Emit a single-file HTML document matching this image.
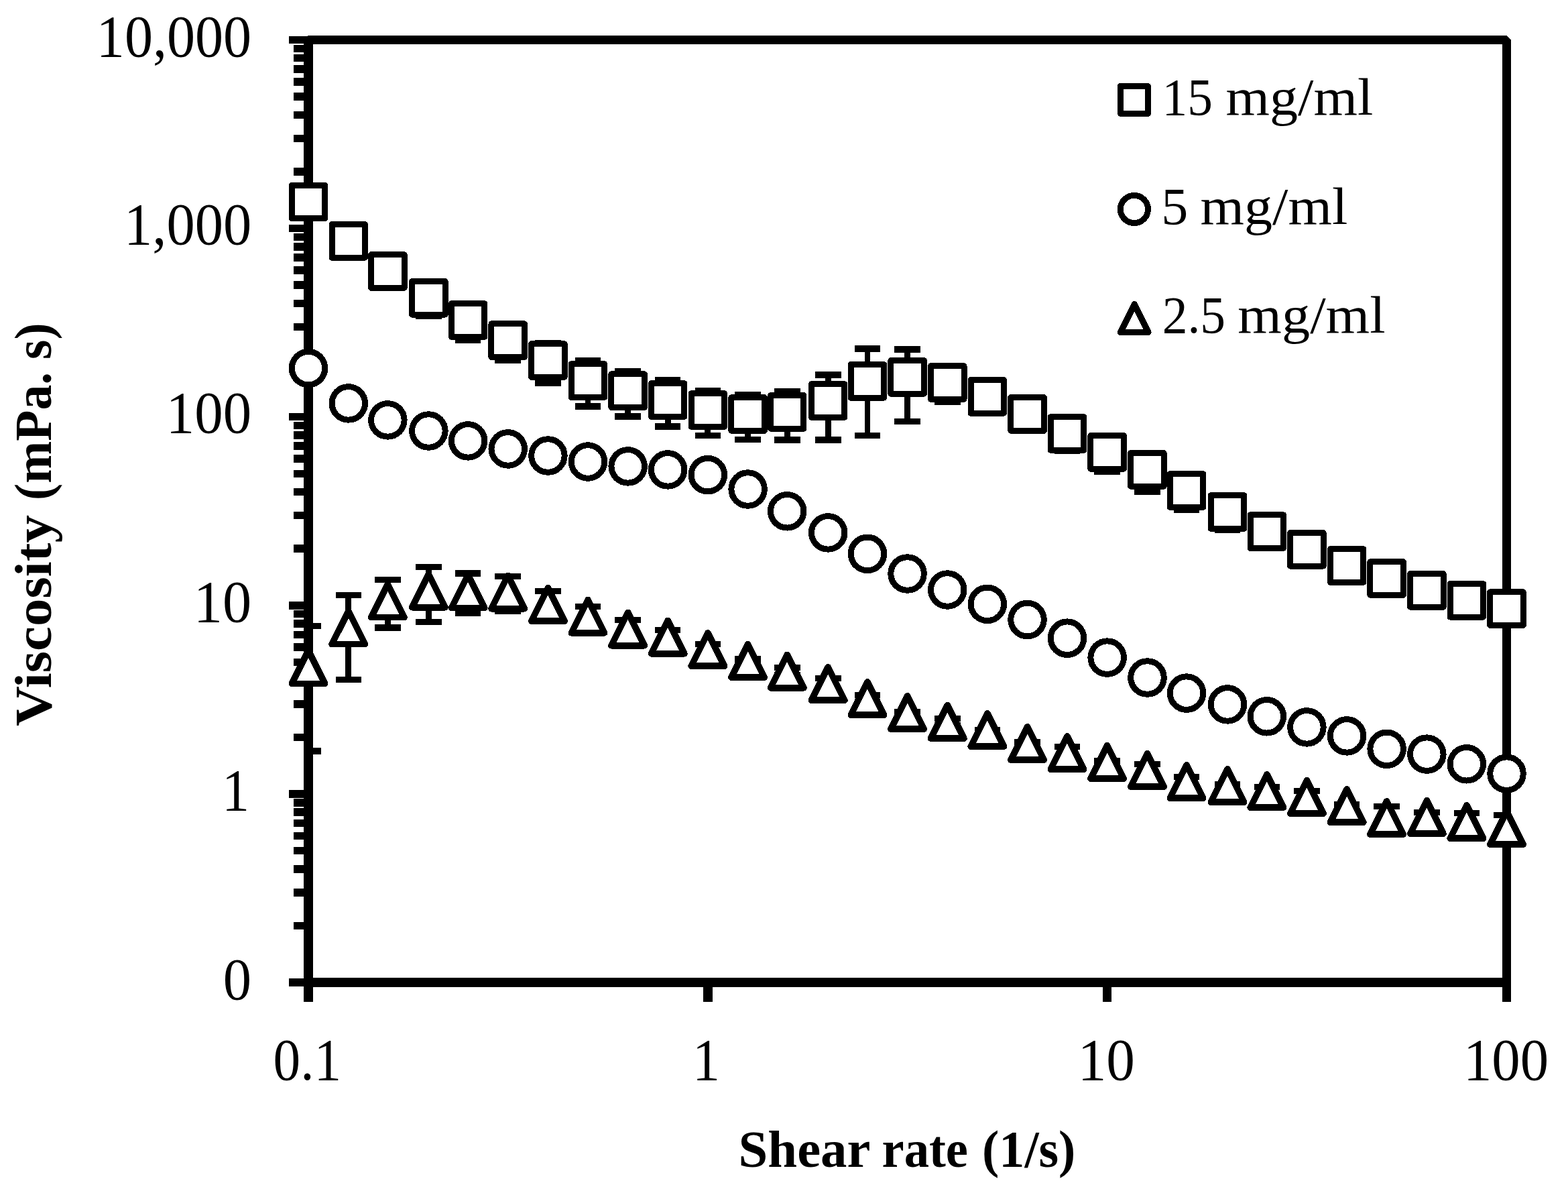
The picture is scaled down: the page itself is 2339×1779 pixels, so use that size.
<!DOCTYPE html>
<html lang="en"><head><meta charset="utf-8"><title>Viscosity vs shear rate</title>
<style>
html,body{margin:0;padding:0;background:#fff;overflow:hidden;}
svg{display:block;}
text{font-family:'Liberation Serif','DejaVu Serif',serif;fill:#000;}
</style></head>
<body>
<svg width="2339" height="1779" viewBox="0 0 2339 1779">
<defs><clipPath id="pa"><rect x="460.0" y="0" width="1787.5" height="1779"/></clipPath></defs>
<rect width="2339" height="1779" fill="#fff"/>
<g fill="#000" shape-rendering="crispEdges">
<path d="M459 53H2247L2254 60V1494H2241V1472H467V1494H453V54H459ZM467 66V1458H2241V66Z" fill-rule="evenodd"/>
<path d="M438 250H454V262H438ZM438 201H454V212H438ZM438 166H454V177H438ZM438 138H454V150H438ZM438 116H454V128H438ZM438 97H454V109H438ZM438 81H454V92H438ZM438 67H454V78H438ZM438 531H454V543H438ZM438 482H454V493H438ZM438 447H454V458H438ZM438 419H454V431H438ZM438 397H454V409H438ZM438 378H454V390H438ZM438 362H454V374H438ZM438 348H454V359H438ZM438 812H454V824H438ZM438 763H454V774H438ZM438 728H454V739H438ZM438 701H454V712H438ZM438 678H454V690H438ZM438 659H454V671H438ZM438 643H454V655H438ZM438 629H454V640H438ZM438 1094H454V1105H438ZM438 1044H454V1056H438ZM438 1009H454V1020H438ZM438 982H454V993H438ZM438 959H454V971H438ZM438 941H454V952H438ZM438 924H454V936H438ZM438 910H454V921H438ZM438 1375H454V1386H438ZM438 1325H454V1337H438ZM438 1290H454V1302H438ZM438 1263H454V1274H438ZM438 1241H454V1252H438ZM438 1222H454V1233H438ZM438 1205H454V1217H438ZM438 1191H454V1203H438ZM431 54H454V65H431ZM431 335H454V346H431ZM431 616H454V627H431ZM431 897H454V909H431ZM431 1178H454V1190H431ZM431 1459H454V1471H431ZM1049 1470H1063V1494H1049ZM1645 1470H1658V1494H1645Z"/>
</g>
<g fill="none" stroke="#000" stroke-width="9.4" clip-path="url(#pa)" shape-rendering="crispEdges">
<path d="M639.36 422.2V471.3" stroke-width="8.9"/><path d="M620.1 422.2H658.7M620.1 471.3H658.7"/><path d="M698.14 453.8V506.9" stroke-width="8.9"/><path d="M678.8 453.8H717.4M678.8 506.9H717.4"/><path d="M757.73 483.9V537.1" stroke-width="8.9"/><path d="M738.4 483.9H777.0M738.4 537.1H777.0"/><path d="M817.43 511.7V571.1" stroke-width="8.9"/><path d="M798.1 511.7H836.7M798.1 571.1H836.7"/><path d="M876.99 537.8V606.1" stroke-width="8.9"/><path d="M857.7 537.8H896.3M857.7 606.1H896.3"/><path d="M936.68 553.7V621.1" stroke-width="8.9"/><path d="M917.4 553.7H956.0M917.4 621.1H956.0"/><path d="M996.14 566.9V636.1" stroke-width="8.9"/><path d="M976.8 566.9H1015.4M976.8 636.1H1015.4"/><path d="M1055.83 582.9V649.2" stroke-width="8.9"/><path d="M1036.5 582.9H1075.1M1036.5 649.2H1075.1"/><path d="M1115.64 588.9V655.2" stroke-width="8.9"/><path d="M1096.3 588.9H1134.9M1096.3 655.2H1134.9"/><path d="M1174.20 583.8V656.1" stroke-width="8.9"/><path d="M1154.9 583.8H1193.5M1154.9 656.1H1193.5"/><path d="M1235.20 558.8V656.1" stroke-width="8.9"/><path d="M1215.9 558.8H1254.5M1215.9 656.1H1254.5"/><path d="M1293.97 519.9V649.2" stroke-width="8.9"/><path d="M1274.7 519.9H1313.3M1274.7 649.2H1313.3"/><path d="M1353.56 520.8V628.2" stroke-width="8.9"/><path d="M1334.3 520.8H1372.9M1334.3 628.2H1372.9"/><path d="M1413.26 547.3V599.2" stroke-width="8.9"/><path d="M1394.0 547.3H1432.6M1394.0 599.2H1432.6"/><path d="M1591.98 625.3V672.2" stroke-width="8.9"/><path d="M1572.7 625.3H1611.3M1572.7 672.2H1611.3"/><path d="M1651.67 651.1V703.2" stroke-width="8.9"/><path d="M1632.4 651.1H1671.0M1632.4 703.2H1671.0"/><path d="M1711.47 676.6V733.2" stroke-width="8.9"/><path d="M1692.2 676.6H1730.8M1692.2 733.2H1730.8"/><path d="M1770.03 708.3V760.2" stroke-width="8.9"/><path d="M1750.7 708.3H1789.3M1750.7 760.2H1789.3"/><path d="M1831.03 741.8V789.9" stroke-width="8.9"/><path d="M1811.7 741.8H1850.3M1811.7 789.9H1850.3"/>
<path d="M460.00 933.7V1119.8" stroke-width="8.9"/><path d="M440.7 933.7H479.3M440.7 1119.8H479.3"/><path d="M519.80 887.7V1013.2" stroke-width="8.9"/><path d="M500.5 887.7H539.1M500.5 1013.2H539.1"/><path d="M578.37 864.7V936.1" stroke-width="8.9"/><path d="M559.1 864.7H597.7M559.1 936.1H597.7"/><path d="M639.36 845.7V927.2" stroke-width="8.9"/><path d="M620.1 845.7H658.7M620.1 927.2H658.7"/><path d="M698.14 854.8V914.3" stroke-width="8.9"/><path d="M678.8 854.8H717.4M678.8 914.3H717.4"/><path d="M757.73 859.7V911.3" stroke-width="8.9"/><path d="M738.4 859.7H777.0M738.4 911.3H777.0"/><path d="M817.43 881.6V925.3" stroke-width="8.9"/><path d="M798.1 881.6H836.7M798.1 925.3H836.7"/><path d="M876.99 904.6V935.3" stroke-width="8.9"/><path d="M857.7 904.6H896.3M857.7 935.3H896.3"/><path d="M936.68 924.6V953.1" stroke-width="8.9"/><path d="M917.4 924.6H956.0M917.4 953.1H956.0"/><path d="M996.14 939.6V961.4" stroke-width="8.9"/><path d="M976.8 939.6H1015.4M976.8 961.4H1015.4"/><path d="M1055.83 960.6V976.9" stroke-width="8.9"/><path d="M1036.5 960.6H1075.1M1036.5 976.9H1075.1"/><path d="M1115.64 982.7V988.2" stroke-width="8.9"/><path d="M1096.3 982.7H1134.9M1096.3 988.2H1134.9"/><path d="M1174.20 995.6V1006.6" stroke-width="8.9"/><path d="M1154.9 995.6H1193.5M1154.9 1006.6H1193.5"/><path d="M1235.20 1011.7V1027.8" stroke-width="8.9"/><path d="M1215.9 1011.7H1254.5M1215.9 1027.8H1254.5"/><path d="M1293.97 1036.7V1046.5" stroke-width="8.9"/><path d="M1274.7 1036.7H1313.3M1274.7 1046.5H1313.3"/><path d="M1353.56 1061.7V1063.3" stroke-width="8.9"/><path d="M1334.3 1061.7H1372.9M1334.3 1063.3H1372.9"/><path d="M1413.26 1071.6V1081.4" stroke-width="8.9"/><path d="M1394.0 1071.6H1432.6M1394.0 1081.4H1432.6"/><path d="M1472.82 1088.4V1088.6" stroke-width="8.9"/><path d="M1453.5 1088.4H1492.1M1453.5 1088.6H1492.1"/><path d="M1532.52 1106.7V1110.3" stroke-width="8.9"/><path d="M1513.2 1106.7H1551.8M1513.2 1110.3H1551.8"/><path d="M1591.98 1113.6V1132.1" stroke-width="8.9"/><path d="M1572.7 1113.6H1611.3M1572.7 1132.1H1611.3"/><path d="M1651.67 1134.6V1138.2" stroke-width="8.9"/><path d="M1632.4 1134.6H1671.0M1632.4 1138.2H1671.0"/><path d="M1711.47 1139.5V1158.2" stroke-width="8.9"/><path d="M1692.2 1139.5H1730.8M1692.2 1158.2H1730.8"/><path d="M1770.03 1158.7V1172.5" stroke-width="8.9"/><path d="M1750.7 1158.7H1789.3M1750.7 1172.5H1789.3"/><path d="M1831.03 1169.7V1173.1" stroke-width="8.9"/><path d="M1811.7 1169.7H1850.3M1811.7 1173.1H1850.3"/><path d="M1889.81 1173.6V1185.5" stroke-width="8.9"/><path d="M1870.5 1173.6H1909.1M1870.5 1185.5H1909.1"/><path d="M1949.40 1179.7V1197.6" stroke-width="8.9"/><path d="M1930.1 1179.7H1968.7M1930.1 1197.6H1968.7"/><path d="M2009.10 1199.8V1203.0" stroke-width="8.9"/><path d="M1989.8 1199.8H2028.4M1989.8 1203.0H2028.4"/><path d="M2068.65 1202.3V1239.5" stroke-width="8.9"/><path d="M2049.4 1202.3H2088.0M2049.4 1239.5H2088.0"/><path d="M2128.35 1211.4V1225.8" stroke-width="8.9"/><path d="M2109.1 1211.4H2147.7M2109.1 1225.8H2147.7"/><path d="M2187.81 1212.7V1239.8" stroke-width="8.9"/><path d="M2168.5 1212.7H2207.1M2168.5 1239.8H2207.1"/><path d="M2247.50 1215.4V1257.2" stroke-width="8.9"/><path d="M2228.2 1215.4H2266.8M2228.2 1257.2H2266.8"/>
</g>
<g fill="#fff" stroke="#000" stroke-width="9.0" stroke-linejoin="round" shape-rendering="crispEdges">
<g><rect x="435.25" y="276.25" width="49.5" height="49.5"/><rect x="495.05" y="334.65" width="49.5" height="49.5"/><rect x="553.62" y="379.75" width="49.5" height="49.5"/><rect x="614.61" y="419.55" width="49.5" height="49.5"/><rect x="673.39" y="452.75" width="49.5" height="49.5"/><rect x="732.98" y="482.85" width="49.5" height="49.5"/><rect x="792.68" y="512.75" width="49.5" height="49.5"/><rect x="852.24" y="542.85" width="49.5" height="49.5"/><rect x="911.93" y="557.85" width="49.5" height="49.5"/><rect x="971.39" y="571.75" width="49.5" height="49.5"/><rect x="1031.08" y="586.75" width="49.5" height="49.5"/><rect x="1090.89" y="592.75" width="49.5" height="49.5"/><rect x="1149.45" y="589.65" width="49.5" height="49.5"/><rect x="1210.45" y="572.75" width="49.5" height="49.5"/><rect x="1269.22" y="543.65" width="49.5" height="49.5"/><rect x="1328.81" y="537.65" width="49.5" height="49.5"/><rect x="1388.51" y="545.75" width="49.5" height="49.5"/><rect x="1448.07" y="566.65" width="49.5" height="49.5"/><rect x="1507.77" y="592.75" width="49.5" height="49.5"/><rect x="1567.23" y="621.75" width="49.5" height="49.5"/><rect x="1626.92" y="649.65" width="49.5" height="49.5"/><rect x="1686.72" y="675.65" width="49.5" height="49.5"/><rect x="1745.28" y="706.75" width="49.5" height="49.5"/><rect x="1806.28" y="738.75" width="49.5" height="49.5"/><rect x="1865.06" y="767.85" width="49.5" height="49.5"/><rect x="1924.65" y="794.55" width="49.5" height="49.5"/><rect x="1984.35" y="818.75" width="49.5" height="49.5"/><rect x="2043.90" y="837.75" width="49.5" height="49.5"/><rect x="2103.60" y="855.65" width="49.5" height="49.5"/><rect x="2163.06" y="870.55" width="49.5" height="49.5"/><rect x="2222.75" y="882.85" width="49.5" height="49.5"/></g>
<g><circle cx="460.00" cy="549.10" r="24.75"/><circle cx="519.80" cy="601.40" r="24.75"/><circle cx="578.37" cy="626.40" r="24.75"/><circle cx="639.36" cy="642.50" r="24.75"/><circle cx="698.14" cy="657.40" r="24.75"/><circle cx="757.73" cy="669.40" r="24.75"/><circle cx="817.43" cy="679.50" r="24.75"/><circle cx="876.99" cy="688.50" r="24.75"/><circle cx="936.68" cy="695.40" r="24.75"/><circle cx="996.14" cy="700.40" r="24.75"/><circle cx="1055.83" cy="708.10" r="24.75"/><circle cx="1115.64" cy="729.50" r="24.75"/><circle cx="1174.20" cy="762.30" r="24.75"/><circle cx="1235.20" cy="794.40" r="24.75"/><circle cx="1293.97" cy="825.80" r="24.75"/><circle cx="1353.56" cy="855.50" r="24.75"/><circle cx="1413.26" cy="879.50" r="24.75"/><circle cx="1472.82" cy="900.80" r="24.75"/><circle cx="1532.52" cy="924.00" r="24.75"/><circle cx="1591.98" cy="951.70" r="24.75"/><circle cx="1651.67" cy="980.60" r="24.75"/><circle cx="1711.47" cy="1010.50" r="24.75"/><circle cx="1770.03" cy="1033.60" r="24.75"/><circle cx="1831.03" cy="1050.40" r="24.75"/><circle cx="1889.81" cy="1068.30" r="24.75"/><circle cx="1949.40" cy="1084.40" r="24.75"/><circle cx="2009.10" cy="1097.40" r="24.75"/><circle cx="2068.65" cy="1116.80" r="24.75"/><circle cx="2128.35" cy="1124.60" r="24.75"/><circle cx="2187.81" cy="1139.30" r="24.75"/><circle cx="2247.50" cy="1153.60" r="24.75"/></g>
<g stroke-width="9.6"><path d="M460.00 970.00L484.70 1019.40H435.30Z"/><path d="M519.80 911.20L544.50 960.60H495.10Z"/><path d="M578.37 871.10L603.07 920.50H553.67Z"/><path d="M639.36 856.30L664.06 905.70H614.66Z"/><path d="M698.14 857.20L722.84 906.60H673.44Z"/><path d="M757.73 858.30L782.43 907.70H733.03Z"/><path d="M817.43 876.80L842.13 926.20H792.73Z"/><path d="M876.99 894.30L901.69 943.70H852.29Z"/><path d="M936.68 913.30L961.38 962.70H911.98Z"/><path d="M996.14 925.30L1020.84 974.70H971.44Z"/><path d="M1055.83 943.80L1080.53 993.20H1031.13Z"/><path d="M1115.64 960.70L1140.34 1010.10H1090.94Z"/><path d="M1174.20 976.30L1198.90 1025.70H1149.50Z"/><path d="M1235.20 994.80L1259.90 1044.20H1210.50Z"/><path d="M1293.97 1016.80L1318.67 1066.20H1269.27Z"/><path d="M1353.56 1037.80L1378.26 1087.20H1328.86Z"/><path d="M1413.26 1051.70L1437.96 1101.10H1388.56Z"/><path d="M1472.82 1063.70L1497.52 1113.10H1448.12Z"/><path d="M1532.52 1083.80L1557.22 1133.20H1507.82Z"/><path d="M1591.98 1097.80L1616.68 1147.20H1567.28Z"/><path d="M1651.67 1111.70L1676.37 1161.10H1626.97Z"/><path d="M1711.47 1123.80L1736.17 1173.20H1686.77Z"/><path d="M1770.03 1140.70L1794.73 1190.10H1745.33Z"/><path d="M1831.03 1146.70L1855.73 1196.10H1806.33Z"/><path d="M1889.81 1154.70L1914.51 1204.10H1865.11Z"/><path d="M1949.40 1163.60L1974.10 1213.00H1924.70Z"/><path d="M2009.10 1176.70L2033.80 1226.10H1984.40Z"/><path d="M2068.65 1194.80L2093.35 1244.20H2043.95Z"/><path d="M2128.35 1193.70L2153.05 1243.10H2103.65Z"/><path d="M2187.81 1200.80L2212.51 1250.20H2163.11Z"/><path d="M2247.50 1209.80L2272.20 1259.20H2222.80Z"/></g>
</g>
<g fill="#fff" stroke="#000" stroke-width="8.9" stroke-linejoin="round" shape-rendering="crispEdges">
<rect x="1671.4" y="128.4" width="41" height="41"/>
<circle cx="1691.9" cy="312" r="20.6"/>
<path d="M1692.20 453.70L1712.90 495.30H1671.50Z" stroke-width="9.4"/>
</g>
<g>
<text font-size="88.0"><tspan x="143.83" y="84.2" textLength="231.3" lengthAdjust="spacingAndGlyphs">10,000</tspan></text>
<text font-size="88.0"><tspan x="185.1" y="364.2" textLength="190.04" lengthAdjust="spacingAndGlyphs">1,000</tspan></text>
<text font-size="88.0"><tspan x="247.87" y="645.1" textLength="127.28" lengthAdjust="spacingAndGlyphs">100</tspan></text>
<text font-size="88.0"><tspan x="288.85" y="927.2" textLength="86.34" lengthAdjust="spacingAndGlyphs">10</tspan></text>
<text font-size="88.0"><tspan x="331.08" y="1208.1" textLength="41.07" lengthAdjust="spacingAndGlyphs">1</tspan></text>
<text font-size="88.0"><tspan x="332.86" y="1489.5" textLength="42.29" lengthAdjust="spacingAndGlyphs">0</tspan></text>
<text font-size="88.0"><tspan x="407.56" y="1610.2" textLength="101.65" lengthAdjust="spacingAndGlyphs">0.1</tspan></text>
<text font-size="88.0"><tspan x="1033.1" y="1610.2" textLength="40.93" lengthAdjust="spacingAndGlyphs">1</tspan></text>
<text font-size="88.0"><tspan x="1607.74" y="1610.2" textLength="85.22" lengthAdjust="spacingAndGlyphs">10</tspan></text>
<text font-size="88.0"><tspan x="2182.88" y="1610.2" textLength="127.17" lengthAdjust="spacingAndGlyphs">100</tspan></text>
<text font-size="77.8"><tspan x="1733.51" y="170.6" textLength="75.34" lengthAdjust="spacingAndGlyphs">15</tspan> <tspan x="1828.48" y="170.6" textLength="219.84" lengthAdjust="spacingAndGlyphs">mg/ml</tspan></text>
<text font-size="77.8"><tspan x="1732.24" y="333.8" textLength="40.06" lengthAdjust="spacingAndGlyphs">5</tspan> <tspan x="1790.48" y="333.8" textLength="219.84" lengthAdjust="spacingAndGlyphs">mg/ml</tspan></text>
<text font-size="77.8"><tspan x="1733.64" y="495.6" textLength="94.42" lengthAdjust="spacingAndGlyphs">2.5</tspan> <tspan x="1846.38" y="495.6" textLength="220.25" lengthAdjust="spacingAndGlyphs">mg/ml</tspan></text>
<text font-size="78.2" font-weight="bold"><tspan x="1101.54" y="1739.9" textLength="195.46" lengthAdjust="spacingAndGlyphs">Shear</tspan> <tspan x="1315.53" y="1739.9" textLength="128.51" lengthAdjust="spacingAndGlyphs">rate</tspan> <tspan x="1465.02" y="1739.9" textLength="139.43" lengthAdjust="spacingAndGlyphs">(1/s)</tspan></text>
<text font-size="78.2" font-weight="bold" transform="translate(76.2 1083.1) rotate(-90)"><tspan x="0.0" y="0" textLength="315.0" lengthAdjust="spacingAndGlyphs">Viscosity</tspan> <tspan x="337.14" y="0" textLength="264.6" lengthAdjust="spacingAndGlyphs">(mPa. s)</tspan></text>
</g>
</svg>
</body></html>
